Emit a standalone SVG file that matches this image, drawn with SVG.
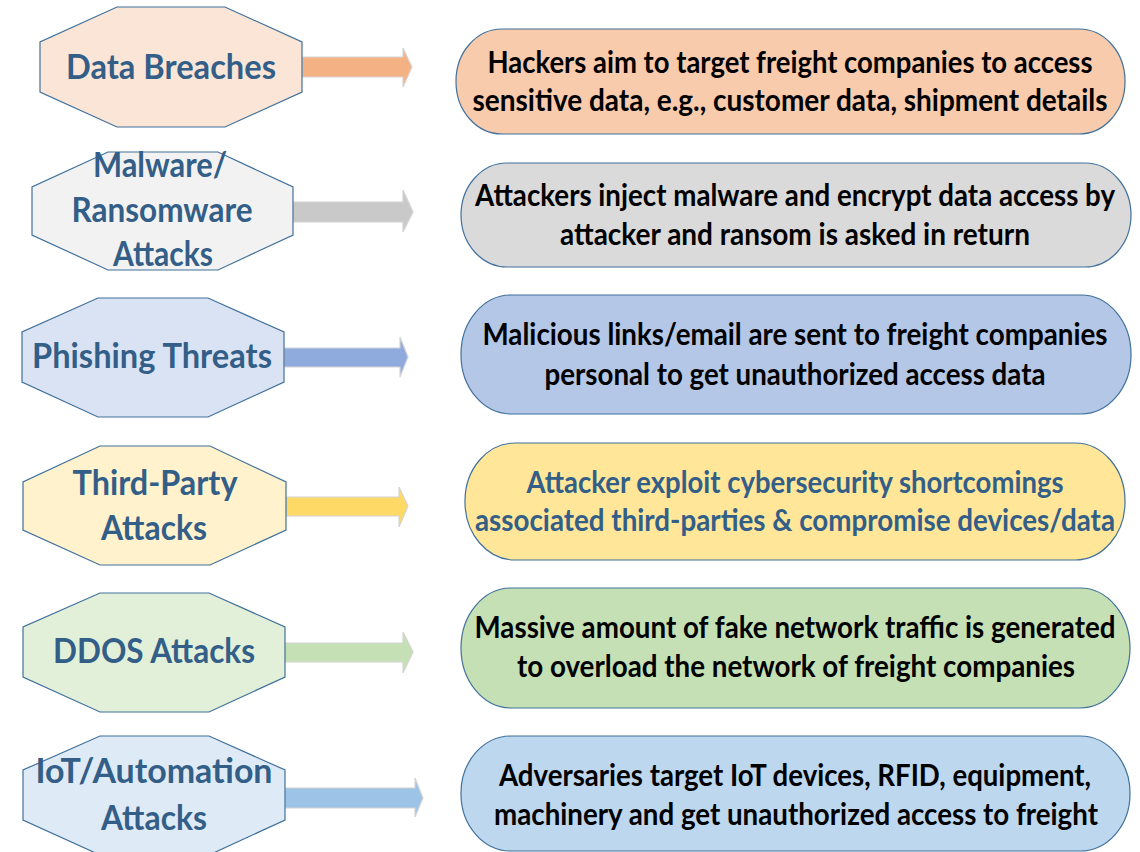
<svg xmlns="http://www.w3.org/2000/svg" width="1140" height="852" viewBox="0 0 1140 852">
<style>
.oct{stroke:#41719C;stroke-width:1.2}
.box{stroke:#41719C;stroke-width:1.2}
.arr{stroke:#d4d4d4;stroke-width:1.2}
.lbl{font-family:Lato,"Open Sans",sans-serif;font-weight:bold;font-size:34px;fill:#335E87;text-anchor:middle}
.txt{font-family:Lato,"Open Sans",sans-serif;font-weight:bold;font-size:29.5px;fill:#000;text-anchor:middle}
.blue{fill:#335E87}
</style>
<rect width="1140" height="852" fill="#fff"/>
<g id="connectors">
<polygon class="arr" fill="#F4B183" points="302,57 403,57 403,48 412,67 403,87 403,77 302,77"/>
<polygon class="arr" fill="#C9C9C9" points="293,202 403,202 403,190 413,212 403,232 403,222 293,222"/>
<polygon class="arr" fill="#8FAADC" points="284,348 400,348 400,337 408,357 400,377 400,367 284,367"/>
<polygon class="arr" fill="#FFD966" points="286,497 399,497 399,487 408,506 399,527 399,516 286,516"/>
<polygon class="arr" fill="#C5E0B4" points="285,643 403,643 403,632 413,652 403,673 403,662 285,662"/>
<polygon class="arr" fill="#9DC3E6" points="285,788 415,788 415,778 423,798 415,817 415,808 285,808"/>
</g>
<g id="n1">
<polygon class="oct" fill="#FBE5D6" points="117,7 225,7 302,42 302,92 225,127 117,127 40,92 40,42"/>
<text class="lbl" x="171" y="79" textLength="210" lengthAdjust="spacingAndGlyphs">Data Breaches</text>
</g>
<g id="n2">
<polygon class="oct" fill="#F2F2F2" points="108,152 218,152 293,187 293,235 218,270 108,270 32,235 32,187"/>
<text class="lbl" x="160" y="177" textLength="134" lengthAdjust="spacingAndGlyphs">Malware/</text>
<text class="lbl" x="162" y="222" textLength="181" lengthAdjust="spacingAndGlyphs">Ransomware</text>
<text class="lbl" x="163" y="266" textLength="100" lengthAdjust="spacingAndGlyphs">Attacks</text>
</g>
<g id="n3">
<polygon class="oct" fill="#DAE3F3" points="98,298 208,298 284,332 284,382 208,417 98,417 22,382 22,332"/>
<text class="lbl" x="152" y="368" textLength="240" lengthAdjust="spacingAndGlyphs">Phishing Threats</text>
</g>
<g id="n4">
<polygon class="oct" fill="#FFF2CC" points="100,446 210,446 286,482 286,530 210,565 100,565 23,530 23,482"/>
<text class="lbl" x="155" y="495" textLength="165" lengthAdjust="spacingAndGlyphs">Third-Party</text>
<text class="lbl" x="154" y="540" textLength="106" lengthAdjust="spacingAndGlyphs">Attacks</text>
</g>
<g id="n5">
<polygon class="oct" fill="#E2F0D9" points="100,593 209,593 285,627 285,677 209,712 100,712 23,677 23,627"/>
<text class="lbl" x="154" y="663" textLength="202" lengthAdjust="spacingAndGlyphs">DDOS Attacks</text>
</g>
<g id="n6">
<polygon class="oct" fill="#DEEBF7" points="100,736 209,736 285,770 285,820 209,855 100,855 23,820 23,770"/>
<text class="lbl" x="154" y="783" textLength="237" lengthAdjust="spacingAndGlyphs">IoT/Automation</text>
<text class="lbl" x="154" y="830" textLength="106" lengthAdjust="spacingAndGlyphs">Attacks</text>
</g>
<g id="b1">
<rect class="box" fill="#F8CBAD" x="456" y="29" width="669" height="105" rx="46" ry="52"/>
<text class="txt" x="790" y="73" textLength="605" lengthAdjust="spacingAndGlyphs">Hackers aim to target freight companies to access</text>
<text class="txt" x="790" y="111" textLength="635" lengthAdjust="spacingAndGlyphs">sensitive data, e.g., customer data, shipment details</text>
</g>
<g id="b2">
<rect class="box" fill="#DADADA" x="461" y="163" width="670" height="104" rx="46" ry="52"/>
<text class="txt" x="795" y="206" textLength="640" lengthAdjust="spacingAndGlyphs">Attackers inject malware and encrypt data access by</text>
<text class="txt" x="795" y="245" textLength="470" lengthAdjust="spacingAndGlyphs">attacker and ransom is asked in return</text>
</g>
<g id="b3">
<rect class="box" fill="#B4C7E7" x="461" y="295" width="670" height="119" rx="50" ry="59"/>
<text class="txt" x="795" y="345" textLength="625" lengthAdjust="spacingAndGlyphs">Malicious links/email are sent to freight companies</text>
<text class="txt" x="795" y="385" textLength="501" lengthAdjust="spacingAndGlyphs">personal to get unauthorized access data</text>
</g>
<g id="b4">
<rect class="box" fill="#FFE699" x="465" y="443" width="660" height="117" rx="50" ry="58"/>
<text class="txt blue" x="795" y="493" textLength="537" lengthAdjust="spacingAndGlyphs">Attacker exploit cybersecurity shortcomings</text>
<text class="txt blue" x="795" y="531" textLength="640" lengthAdjust="spacingAndGlyphs">associated third-parties &amp; compromise devices/data</text>
</g>
<g id="b5">
<rect class="box" fill="#C5E0B4" x="461" y="588" width="669" height="120" rx="50" ry="60"/>
<text class="txt" x="795" y="638" textLength="641" lengthAdjust="spacingAndGlyphs">Massive amount of fake network traffic is generated</text>
<text class="txt" x="796" y="677" textLength="558" lengthAdjust="spacingAndGlyphs">to overload the network of freight companies</text>
</g>
<g id="b6">
<rect class="box" fill="#BDD7EE" x="461" y="736" width="669" height="115" rx="50" ry="57"/>
<text class="txt" x="795" y="786" textLength="592" lengthAdjust="spacingAndGlyphs">Adversaries target IoT devices, RFID, equipment,</text>
<text class="txt" x="796" y="825" textLength="604" lengthAdjust="spacingAndGlyphs">machinery and get unauthorized access to freight</text>
</g>
</svg>
